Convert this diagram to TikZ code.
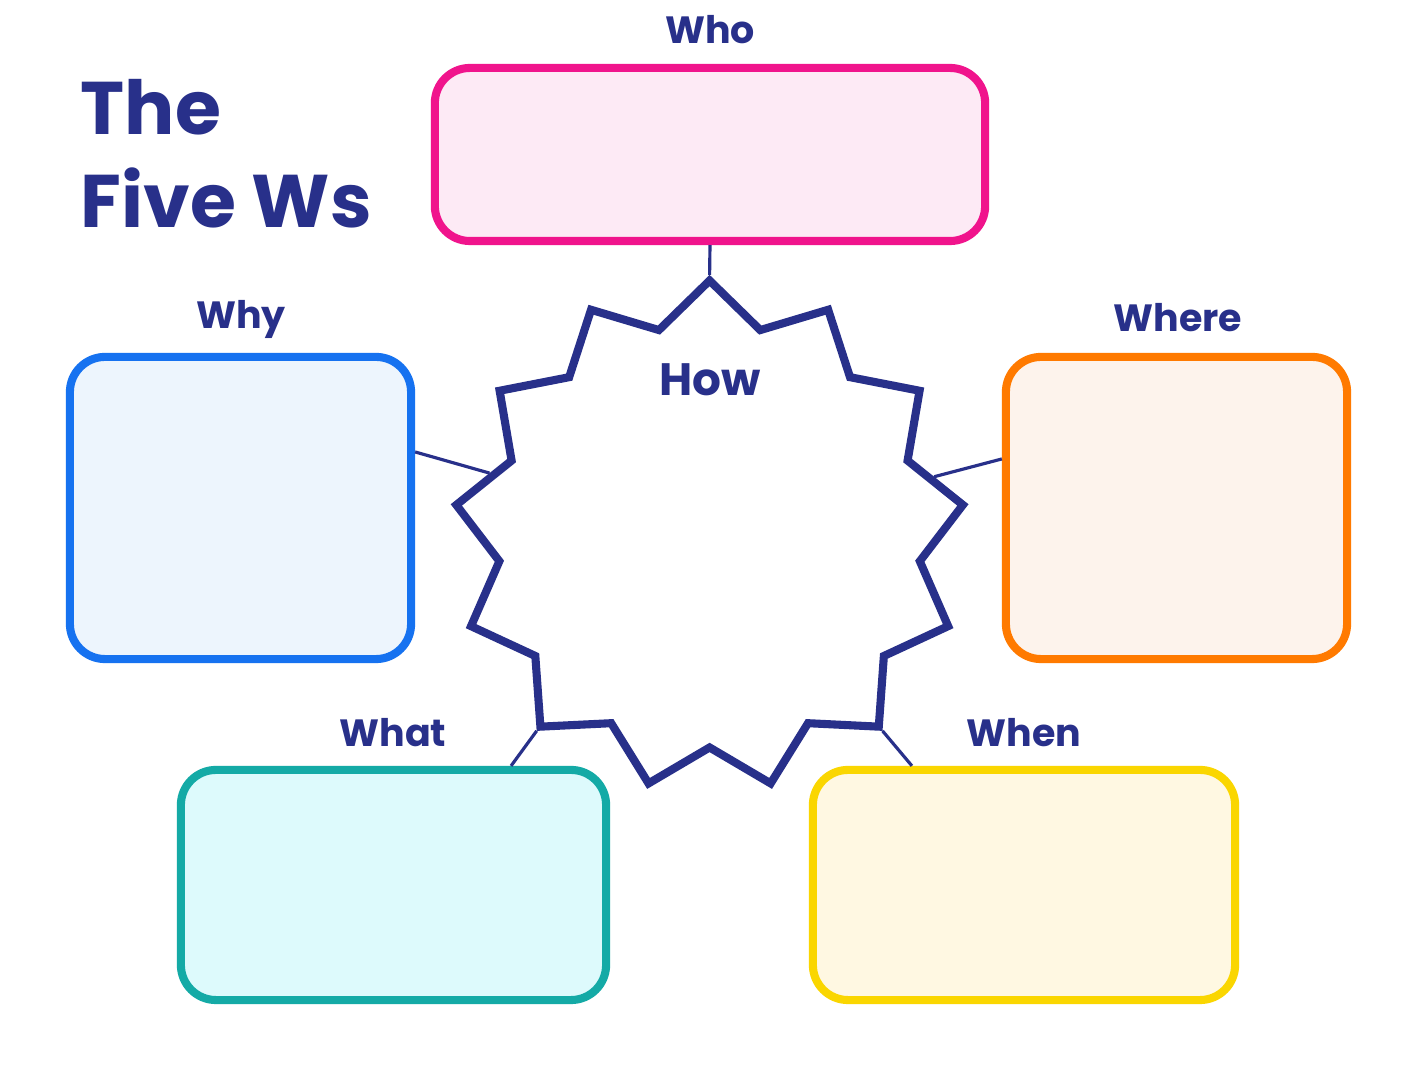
\documentclass[tikz,border=0pt]{standalone}
\usepackage{fontspec}
\setmainfont{Poppins}
\usepackage{xcolor}
\usetikzlibrary{shapes.geometric}

\definecolor{wsnavy}{RGB}{40,48,138}
\definecolor{wholine}{RGB}{240,20,140}
\definecolor{whofill}{RGB}{253,234,245}
\definecolor{whyline}{RGB}{22,114,240}
\definecolor{whyfill}{RGB}{237,245,253}
\definecolor{whereline}{RGB}{255,122,0}
\definecolor{wherefill}{RGB}{253,243,236}
\definecolor{whatline}{RGB}{20,170,166}
\definecolor{whatfill}{RGB}{221,250,252}
\definecolor{whenline}{RGB}{250,214,0}
\definecolor{whenfill}{RGB}{255,248,226}

\begin{document}
\begin{tikzpicture}[x=0.01cm,y=-0.01cm,
  card/.style 2 args={draw=#1,fill=#2,line width=2.3pt,rounded corners=10pt},
  wlabel/.style={text=wsnavy,font=\fontsize{10.8}{13}\selectfont\bfseries},
  link/.style={draw=wsnavy,line width=0.9pt}]
  \path[use as bounding box,fill=white] (0,0) rectangle (1420,1065);
  % title
  \node[anchor=base west,inner sep=0,text=wsnavy,font=\fontsize{21.2}{26}\selectfont\bfseries] (ttlthe) at (80,135) {The};
  \node[anchor=base west,inner sep=0,text=wsnavy,font=\fontsize{21.2}{26}\selectfont\bfseries] (ttlfive) at (80,228) {Five Ws};
  % boxes
  \node[card={wholine}{whofill},minimum width=5.50cm,minimum height=1.73cm] (who) at (710,154.5) {};
  \node[card={whyline}{whyfill},minimum width=3.41cm,minimum height=3.02cm] (why) at (240.5,508) {};
  \node[card={whereline}{wherefill},minimum width=3.41cm,minimum height=3.02cm] (where) at (1176.5,508) {};
  \node[card={whatline}{whatfill},minimum width=4.25cm,minimum height=2.30cm] (what) at (393.5,885) {};
  \node[card={whenline}{whenfill},minimum width=4.22cm,minimum height=2.30cm] (when) at (1024,885) {};
  % star
  \node[star,star points=13,star point ratio=1.205,minimum size=5.1cm,draw=wsnavy,fill=white,line width=2.3pt,inner sep=0] (how) at (709.6,535.7) {};
  \node[wlabel,font=\fontsize{12.9}{15}\selectfont\bfseries] (howtext) at (710,380) {How};
  % links
  \draw[link] (who.south) -- (how.outer point 1);
  \draw[link] ([yshift=0.56cm]why.east) -- (how);
  \draw[link] ([yshift=0.49cm]where.west) -- (how);
  \draw[link] (how.outer point 6) -- ([xshift=1.175cm]what.north);
  \draw[link] (how.outer point 9) -- ([xshift=-1.12cm]when.north);
  % labels
  \node[wlabel] (wholbl) at (710,30) {Who};
  \node[wlabel] (whylbl) at (241,319) {Why};
  \node[wlabel] (wherelbl) at (1178,318) {Where};
  \node[wlabel] (whatlbl) at (393,733) {What};
  \node[wlabel] (whenlbl) at (1024,733) {When};
\end{tikzpicture}
\end{document}
